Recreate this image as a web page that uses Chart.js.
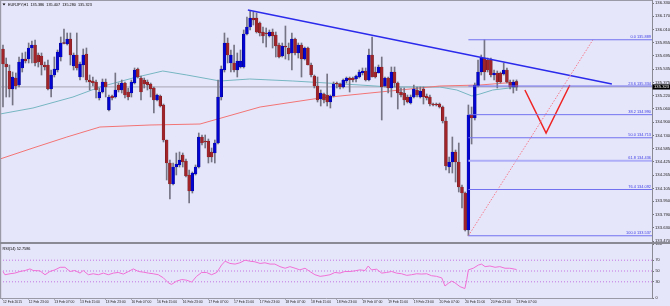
<!DOCTYPE html>
<html><head><meta charset="utf-8">
<script src="https://cdn.jsdelivr.net/npm/chart.js@4.4.1/dist/chart.umd.min.js"></script>
<style>
html,body{margin:0;padding:0;background:#e6e6fa;}
#wrap{position:relative;width:670px;height:306px;background:#e6e6fa;overflow:hidden;}
#c1wrap{position:absolute;left:0;top:0;width:670px;height:244px;}
#c2wrap{position:absolute;left:0;top:244px;width:670px;height:62px;}
</style></head><body>
<div id="wrap"><div id="c1wrap"><canvas id="c1"></canvas></div><div id="c2wrap"><canvas id="c2"></canvas></div></div>
<script>
// ---------------- DATA ----------------
const symbolTitle = 'EURJPY,H1';
const headerQuote = ['135.386', '135.407', '135.280', '135.323'];
const rsiTitle = 'RSI(14) 52.7586';
const lastPrice = 135.323;

const opens = [135.778,135.598,135.514,135.298,135.430,135.346,135.550,135.658,135.658,135.790,
135.826,135.706,135.694,135.586,135.586,135.298,135.466,135.526,135.682,135.850,
135.838,135.898,135.574,135.706,135.442,135.586,135.718,135.406,135.394,135.382,
135.190,135.262,135.382,135.046,135.214,135.202,135.346,135.286,135.370,135.262,
135.250,135.370,135.538,135.430,135.406,135.382,135.358,135.310,135.166,135.214,
135.106,134.686,134.410,134.158,134.362,134.386,134.506,134.434,134.266,134.074,
134.278,134.362,134.722,134.674,134.674,134.542,134.530,134.650,135.202,135.526,
135.850,135.610,135.610,135.526,135.562,135.562,135.958,136.042,136.150,136.150,
136.090,135.982,135.970,135.934,135.982,135.946,135.826,135.694,135.814,135.790,
135.730,135.898,135.730,135.826,135.658,135.790,135.586,135.454,135.334,135.178,
135.238,135.226,135.142,135.214,135.370,135.358,135.322,135.394,135.430,135.430,
135.418,135.442,135.490,135.514,135.406,135.706,135.502,135.490,135.562,135.334,
135.430,135.310,135.502,135.370,135.262,135.250,135.202,135.130,135.202,135.286,
135.202,135.298,135.214,135.202,135.118,135.118,135.118,135.082,134.914,134.362,
134.422,134.542,134.422,134.122,134.050,133.606,134.986,134.950,135.334,135.502,
135.670,135.646,135.646,135.466,135.490,135.490,135.478,135.526,135.382,135.322,135.386];

const highs = [135.826,135.670,135.586,135.502,135.490,135.682,135.730,135.742,135.850,135.874,
135.886,135.730,135.730,135.622,135.646,135.526,135.682,135.766,135.922,136.018,
135.970,135.970,135.730,135.970,135.622,135.778,135.790,135.466,135.442,135.406,
135.310,135.418,135.418,135.226,135.226,135.490,135.370,135.406,135.382,135.310,
135.406,135.550,135.550,135.454,135.430,135.406,135.370,135.322,135.238,135.226,
135.118,134.686,134.446,134.410,134.530,134.542,134.530,134.458,134.326,134.302,
134.386,134.770,134.746,134.746,134.698,134.590,134.686,135.406,135.574,135.970,
135.910,135.766,135.826,135.730,135.766,136.006,136.162,136.234,136.222,136.210,
136.102,136.042,136.030,136.006,136.018,135.982,135.850,135.850,136.054,135.850,
135.970,135.910,135.850,135.850,135.802,135.802,135.610,135.466,135.442,135.286,
135.250,135.478,135.226,135.382,135.382,135.370,135.418,135.442,135.442,135.442,
135.466,135.526,135.550,135.550,135.778,135.922,135.562,135.586,135.682,135.442,
135.442,135.562,135.562,135.382,135.310,135.310,135.226,135.226,135.346,135.322,
135.322,135.322,135.238,135.226,135.130,135.130,135.130,135.094,134.962,134.482,
134.722,134.566,134.650,134.146,134.062,135.106,135.082,135.370,135.646,135.706,
135.889,135.670,135.670,135.526,135.514,135.502,135.610,135.550,135.406,135.406,135.407];

const lows = [135.082,135.202,135.202,135.106,135.298,135.322,135.502,135.610,135.610,135.610,
135.574,135.562,135.466,135.526,135.286,135.202,135.442,135.502,135.634,135.838,
135.826,135.586,135.526,135.526,135.406,135.442,135.382,135.286,135.334,135.190,
135.166,135.250,135.202,135.034,135.166,135.190,135.262,135.250,135.190,135.166,
135.202,135.358,135.430,135.166,135.310,135.286,135.202,135.010,135.154,135.082,
134.662,134.206,133.978,134.146,134.266,134.362,134.362,134.242,133.930,134.050,
134.266,134.350,134.626,134.590,134.410,134.422,134.410,134.638,135.166,135.502,
135.610,135.502,135.502,135.442,135.550,135.550,135.946,136.006,136.066,135.970,
135.934,135.850,135.802,135.922,135.790,135.682,135.670,135.682,135.658,135.646,
135.526,135.706,135.670,135.442,135.646,135.586,135.442,135.310,135.142,135.094,
135.130,135.094,135.070,135.202,135.310,135.298,135.310,135.370,135.262,135.382,
135.382,135.430,135.466,135.394,135.394,135.442,135.430,135.490,134.926,135.322,
135.250,135.202,135.322,135.058,135.202,135.106,135.130,135.118,135.190,135.202,
135.190,135.118,135.166,135.094,135.094,135.094,135.070,134.890,134.326,134.290,
134.290,134.182,134.062,133.870,133.594,133.537,134.638,134.926,135.322,135.466,
135.406,135.502,135.442,135.406,135.310,135.370,135.466,135.370,135.298,135.250,135.280];

const closes = [135.598,135.562,135.298,135.442,135.334,135.622,135.658,135.634,135.790,135.826,
135.610,135.622,135.586,135.562,135.298,135.466,135.538,135.742,135.850,135.844,
135.898,135.706,135.706,135.550,135.598,135.706,135.406,135.382,135.370,135.286,
135.262,135.382,135.322,135.202,135.190,135.286,135.286,135.370,135.226,135.202,
135.382,135.526,135.442,135.262,135.358,135.346,135.298,135.166,135.226,135.094,
134.686,134.410,134.158,134.362,134.398,134.446,134.422,134.254,134.074,134.290,
134.362,134.722,134.650,134.662,134.482,134.482,134.650,135.202,135.538,135.850,
135.706,135.706,135.526,135.634,135.634,135.958,136.042,136.150,136.126,135.982,
135.970,135.934,135.958,135.982,135.934,135.814,135.682,135.814,135.802,135.718,
135.898,135.730,135.826,135.658,135.790,135.586,135.466,135.334,135.166,135.250,
135.166,135.142,135.214,135.358,135.358,135.322,135.406,135.430,135.406,135.406,
135.454,135.502,135.514,135.406,135.706,135.442,135.442,135.562,135.322,135.430,
135.310,135.502,135.370,135.250,135.226,135.166,135.142,135.202,135.298,135.226,
135.274,135.202,135.190,135.118,135.106,135.106,135.082,134.914,134.374,134.422,
134.542,134.422,134.122,134.050,133.606,134.986,134.950,135.346,135.502,135.670,
135.502,135.526,135.466,135.490,135.382,135.382,135.526,135.382,135.322,135.382,135.323];

// moving averages (bar index, price) read at the visible vertices
const maFastIdx = [-0.93, 9.35, 21.8, 30.2, 40.5, 49.8, 57.3, 67.6, 76.9, 90.3, 100.9, 111.2, 120.6, 136.1, 141.4, 146.1, 148.6, 152.6, 160.4];
const maFastVal = [134.998, 135.070, 135.202, 135.322, 135.430, 135.514, 135.466, 135.394, 135.418, 135.394, 135.370, 135.346, 135.322, 135.322, 135.286, 135.214, 135.238, 135.286, 135.322];
const maSlowIdx = [-0.93, 9.35, 19.9, 30.2, 45.8, 61.4, 80.1, 98.8, 120.6, 136.1, 148.6, 160.4];
const maSlowVal = [134.458, 134.590, 134.722, 134.842, 134.866, 134.878, 135.082, 135.190, 135.274, 135.334, 135.346, 135.382];

// drawn objects
const trendIdx = [76.3, 189.7];
const trendVal = [136.246, 135.358];
const fibNames = ['0.0', '23.6', '38.2', '50.0', '61.8', '76.4', '100.0'];
const fibPrices = [135.889, 135.334, 134.990, 134.713, 134.436, 134.092, 133.537];
const fibStartIdx = 145;
const fibDiagIdx = [145, 183.8];
const fibDiagVal = [133.537, 135.889];
const vIdx = [162.6, 169.2, 176.6];
const vVal = [135.286, 134.770, 135.346];

// axes
const priceTicks = [136.330, 136.170, 136.010, 135.855, 135.695, 135.535, 135.375, 135.220, 135.060, 134.900,
  134.740, 134.585, 134.425, 134.265, 134.105, 133.950, 133.790, 133.630, 133.470];
const xTickIdx = [0, 8, 16, 24, 32, 40, 48, 56, 64, 72, 80, 88, 96, 104, 112, 120, 128, 136, 144, 152, 160];
const xTickLabels = ['12 Feb 2015', '12 Feb 23:00', '13 Feb 07:00', '13 Feb 15:00', '13 Feb 23:00', '16 Feb 07:00',
  '16 Feb 15:00', '16 Feb 23:00', '17 Feb 07:00', '17 Feb 15:00', '17 Feb 23:00', '18 Feb 07:00', '18 Feb 15:00',
  '18 Feb 23:00', '19 Feb 07:00', '19 Feb 15:00', '19 Feb 23:00', '20 Feb 07:00', '20 Feb 15:00', '20 Feb 23:00', '23 Feb 07:00'];
const rsiTicks = [100, 70, 50, 30, 0];
const rsiLevels = [70, 50, 30];

// RSI(14) (bar index, value)
const rsiIdx = [0, 0.6, 2.2, 3.7, 5.3, 6.9, 8.4, 9.4, 11.5, 13.1, 14.6, 16.2, 17.8, 19.3, 20.9, 22.4, 24, 25, 26.6, 28.1,
  29.7, 31.3, 32.8, 34.4, 35.9, 37.5, 39.1, 40.6, 42.2, 43.7, 45.3, 46.8, 48.4, 50, 51.5, 52.5, 54.1, 55.7, 57.2, 58.8,
  60.3, 61.9, 63.4, 65, 66.6, 68.1, 69.2, 70.7, 72.3, 73.8, 75.4, 76.9, 78.5, 80.1, 81.6, 83.2, 84.7, 86.3, 87.9, 89.4,
  91, 92.5, 94.1, 95.6, 97.2, 98.8, 100.3, 101.9, 103.4, 105, 106.5, 108.1, 109.7, 111.2, 112.8, 113.8, 114.8, 116.4, 118, 119.5,
  121.1, 122.6, 124.2, 125.8, 127.3, 128.9, 130.4, 132, 133.5, 135.1, 136.7, 137.7, 138.7, 139.8, 140.8, 142.4, 143.9, 144.5, 145, 146.5,
  148.1, 149.1, 150.2, 151.7, 153.3, 154.8, 156.4, 157.9, 159.5, 160];
const rsiVal = [49.1, 43.1, 44.9, 46.1, 49.1, 50.9, 53.9, 50.9, 50.3, 43.1, 49.1, 52.1, 56.9, 56.9, 49.1, 50.9, 46.1, 50.9, 43.1, 44.9,
  43.1, 46.1, 43.1, 46.1, 47.3, 44.3, 49.1, 53.9, 49.1, 47.9, 46.1, 44.9, 43.1, 37.2, 28.2, 25.2, 31.2, 34.2, 33.0, 29.4,
  40.1, 47.3, 47.3, 43.1, 47.3, 61.0, 68.2, 64.0, 62.8, 65.2, 70.0, 68.2, 67.0, 64.0, 65.2, 62.8, 62.8, 58.1, 55.1, 58.1,
  55.1, 52.1, 55.1, 49.1, 43.1, 40.1, 41.3, 43.1, 47.3, 46.1, 49.1, 49.1, 50.3, 52.1, 50.9, 59.3, 52.1, 53.3, 46.1, 47.3,
  49.1, 46.1, 44.9, 41.9, 43.1, 44.9, 44.3, 44.9, 41.3, 40.1, 37.2, 22.2, 27.0, 31.2, 28.2, 21.0, 17.5, 34.2, 52.1, 55.1,
  61.0, 62.8, 58.1, 59.3, 56.9, 58.1, 55.1, 55.1, 53.3, 52.76];

// ---------------- CHART ----------------
const X_MIN = -0.93, X_MAX = 202.2;
const FONT = '"Liberation Sans", Arial, sans-serif';
const AXIS_W = 18;

const barIdx = opens.map((_, i) => i);
const bodies = barIdx.map(i => ({x: i, y: [opens[i], closes[i]]}));
const wicks = barIdx.map(i => ({x: i, y: [lows[i], highs[i]]}));
const bodyColors = barIdx.map(i => closes[i] >= opens[i] ? '#0404d0' : '#a0242a');
const bodyBorders = barIdx.map(i => closes[i] >= opens[i] ? '#000070' : '#5a1416');
const pts = (xs, ys) => xs.map((x, k) => ({x: x, y: ys[k]}));
const lineDs = (data, color, width, extra) => Object.assign({type: 'line', data: data, borderColor: color, borderWidth: width,
  pointRadius: 0, tension: 0, fill: false, order: 0}, extra || {});

const datasets1 = [
  {type: 'bar', data: wicks, backgroundColor: '#747484', barThickness: 1, grouped: false, order: 2, minBarLength: 1},
  {type: 'bar', data: bodies, backgroundColor: bodyColors, borderColor: bodyBorders, borderWidth: 0.4, borderSkipped: false,
    barThickness: 2.8, grouped: false, order: 1, minBarLength: 1},
  lineDs(pts(maSlowIdx, maSlowVal), '#f27474', 1, {order: 3}),
  lineDs(pts(maFastIdx, maFastVal), '#76b6c2', 1, {order: 3}),
  lineDs([{x: X_MIN, y: lastPrice}, {x: X_MAX, y: lastPrice}], '#a4a4b4', 1, {order: 4})
];
fibPrices.forEach((p, k) => {
  datasets1.push(lineDs([{x: fibStartIdx, y: p}, {x: X_MAX, y: p}], k === 4 ? '#aeaef8' : '#7272f0', k === 4 ? 2 : 1));
});
datasets1.push(lineDs(pts(fibDiagIdx, fibDiagVal), '#f47a8a', 1, {borderDash: [1.5, 1.5]}));
datasets1.push(lineDs(pts(trendIdx, trendVal), '#2a2aec', 1.4));
datasets1.push(lineDs(pts(vIdx, vVal), '#ee2424', 1.5));

const overlay1 = {
  id: 'overlay1',
  afterDraw(chart) {
    const {ctx, chartArea: ca, scales: {y}} = chart;
    ctx.save();
    ctx.font = '3.9px ' + FONT;
    ctx.fillStyle = '#3c3ce6';
    ctx.textAlign = 'right'; ctx.textBaseline = 'bottom';
    fibPrices.forEach((p, k) => ctx.fillText(fibNames[k] + ' ' + p.toFixed(3), ca.right - 1, y.getPixelForValue(p) - 0.5));
    ctx.fillStyle = '#9a9aa6';
    ctx.fillRect(0, 0, ca.right, 1);
    ctx.fillRect(0, 0, 1.2, ca.bottom);
    ctx.fillStyle = '#8a8a94';
    ctx.fillRect(0, ca.bottom - 2, chart.width, 2);
    const py = y.getPixelForValue(lastPrice);
    ctx.fillStyle = '#000';
    ctx.fillRect(ca.right + 0.5, py - 2.6, chart.width - ca.right, 5.2);
    ctx.fillStyle = '#fff';
    ctx.font = '4.2px ' + FONT;
    ctx.textAlign = 'left'; ctx.textBaseline = 'middle';
    ctx.fillText(lastPrice.toFixed(3), ca.right + 2, py + 0.2);
    ctx.fillStyle = '#000';
    ctx.beginPath(); ctx.moveTo(2.5, 3.5); ctx.lineTo(5.5, 3.5); ctx.lineTo(4, 5.5); ctx.closePath(); ctx.fill();
    ctx.font = '3.8px ' + FONT;
    ctx.textAlign = 'left'; ctx.textBaseline = 'middle';
    ctx.fillText(symbolTitle + '  ' + headerQuote.join('  '), 8, 4.8);
    ctx.restore();
  }
};

new Chart(document.getElementById('c1'), {
  type: 'bar',
  data: {datasets: datasets1},
  plugins: [overlay1],
  options: {
    responsive: true, maintainAspectRatio: false, animation: false, events: [],
    layout: {padding: 0},
    plugins: {legend: {display: false}, tooltip: {enabled: false}},
    scales: {
      x: {type: 'linear', min: X_MIN, max: X_MAX, offset: false, display: false},
      y: {
        type: 'linear', position: 'right', min: 133.438, max: 136.366,
        afterBuildTicks: s => { s.ticks = priceTicks.map(v => ({value: v})); },
        afterFit: s => { s.width = AXIS_W; s.paddingTop = 0; s.paddingBottom = 0; },
        ticks: {autoSkip: false, font: {size: 4.2, family: FONT}, color: '#222', padding: 1,
          callback: v => Number(v).toFixed(3)},
        grid: {drawOnChartArea: false, drawTicks: true, tickLength: 2, color: '#707078'},
        border: {display: true, color: '#8a8a94', width: 1}
      }
    }
  }
});

const datasets2 = [
  lineDs(pts(rsiIdx, rsiVal), '#f070d6', 1)
];
rsiLevels.forEach(l => datasets2.push(lineDs([{x: X_MIN, y: l}, {x: X_MAX, y: l}], '#c474e4', 1, {borderDash: [1, 2], order: 5})));

const overlay2 = {
  id: 'overlay2',
  afterDraw(chart) {
    const {ctx, chartArea: ca} = chart;
    ctx.save();
    ctx.fillStyle = '#9a9aa6';
    ctx.fillRect(0, 0, 1.2, ca.bottom);
    ctx.fillStyle = '#000';
    ctx.font = '3.8px ' + FONT;
    ctx.textAlign = 'left'; ctx.textBaseline = 'middle';
    ctx.fillText(rsiTitle, 2.5, 5);
    ctx.restore();
  }
};

new Chart(document.getElementById('c2'), {
  type: 'line',
  data: {datasets: datasets2},
  plugins: [overlay2],
  options: {
    responsive: true, maintainAspectRatio: false, animation: false, events: [],
    layout: {padding: 0},
    plugins: {legend: {display: false}, tooltip: {enabled: false}},
    scales: {
      x: {
        type: 'linear', min: X_MIN, max: X_MAX, offset: false,
        afterBuildTicks: s => { s.ticks = xTickIdx.map(v => ({value: v})); },
        afterFit: s => { s.height = 8; s.paddingLeft = 0; s.paddingRight = 0; },
        ticks: {autoSkip: false, maxRotation: 0, minRotation: 0, align: 'start', font: {size: 3.4, family: FONT},
          color: '#222', padding: 1, callback: (v, i) => xTickLabels[i]},
        grid: {drawOnChartArea: false, drawTicks: true, tickLength: 1.5, color: '#707078'},
        border: {display: true, color: '#9a9aa6', width: 1}
      },
      y: {
        type: 'linear', position: 'right', min: 0, max: 100,
        afterBuildTicks: s => { s.ticks = rsiTicks.map(v => ({value: v})); },
        afterFit: s => { s.width = AXIS_W; s.paddingTop = 0; s.paddingBottom = 0; },
        ticks: {autoSkip: false, font: {size: 3.8, family: FONT}, color: '#222', padding: 1.5},
        grid: {drawOnChartArea: false, drawTicks: true, tickLength: 2, color: '#707078'},
        border: {display: true, color: '#8a8a94', width: 1}
      }
    }
  }
});
</script>
</body></html>
